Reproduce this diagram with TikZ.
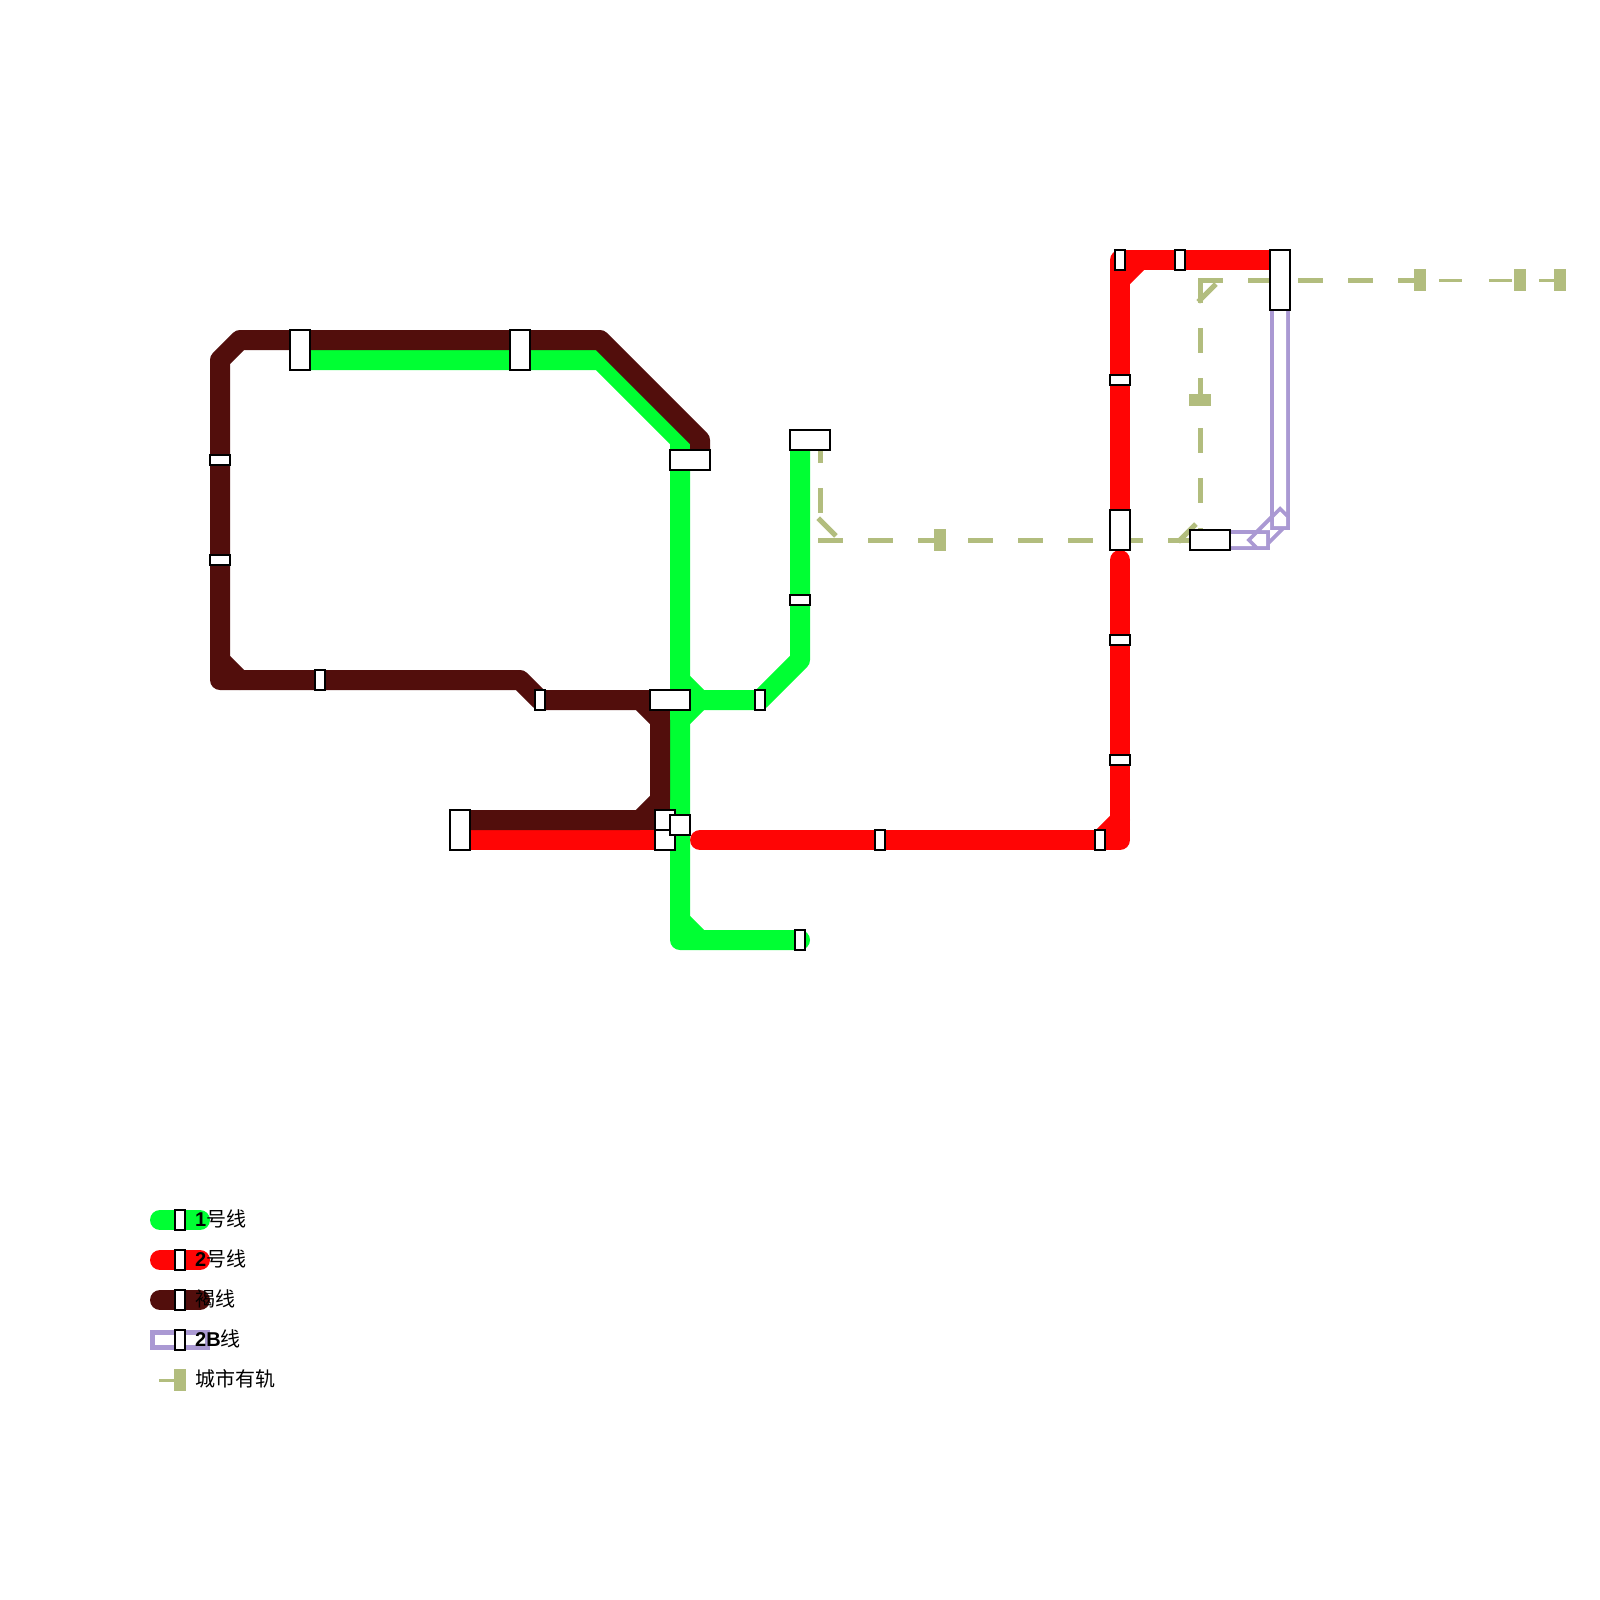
\documentclass[tikz,border=0pt]{standalone}
\usepackage{fontspec,tikz}
\usetikzlibrary{backgrounds}
\setmainfont{Liberation Sans}
\newfontfamily\cjk{Noto Sans CJK SC}
\definecolor{lgreen}{RGB}{0,255,51}
\definecolor{lred}{RGB}{255,5,5}
\definecolor{lbrown}{RGB}{82,14,12}
\definecolor{lpurple}{RGB}{170,153,211}
\definecolor{ltram}{RGB}{178,189,126}
\tikzset{
  metro/.style={line width=20pt,line cap=round,line join=round},
  metrob/.style={line width=20pt,draw=lpurple},
  tramline/.style={draw=ltram,line width=5pt,line cap=rect,dash pattern=on 20pt off 30pt},
  tramthin/.style={tramline,line width=3pt},
  stn/.style={draw=black,line width=2pt,fill=white,inner sep=0pt,outer sep=0pt},
  stnv/.style={stn,minimum width=10pt,minimum height=20pt},
  stnh/.style={stn,minimum width=20pt,minimum height=10pt},
  stnwide/.style={stn,minimum width=40pt,minimum height=20pt},
  stntall/.style={stn,minimum width=20pt,minimum height=40pt},
  stnlong/.style={stn,minimum width=20pt,minimum height=60pt},
  stnsq/.style={stn,minimum width=20pt,minimum height=20pt},
  tramv/.style={fill=ltram,inner sep=0pt,outer sep=0pt,minimum width=12pt,minimum height=22pt},
  tramh/.style={fill=ltram,inner sep=0pt,outer sep=0pt,minimum width=22pt,minimum height=12pt},
  legendtext/.style={anchor=base west,inner sep=0pt,font=\fontsize{20}{24}\selectfont}
}
\begin{document}
\begin{tikzpicture}[x=1pt,y=-1pt]
\path[use as bounding box] (0,0) rectangle (1600,1600);
% tram stops
\node[tramh] (tramA) at (1200,400) {};
\node[tramv] (tramB) at (940,540) {};
\node[tramv] (tramC) at (1420,280) {};
\node[tramv] (tramD) at (1520,280) {};
\node[tramv] (tramE) at (1560,280) {};
% brown line stations
\node[stntall] (brownA) at (300,350) {};
\node[stntall] (brownB) at (520,350) {};
\node[stnh] (brownC) at (220,460) {};
\node[stnh] (brownD) at (220,560) {};
\node[stnv] (brownE) at (320,680) {};
\node[stnv] (brownF) at (540,700) {};
\node[stnwide] (brownG) at (690,460) {};
\node[stnwide] (hubA) at (670,700) {};
\node[stntall] (westA) at (460,830) {};
\node[stnsq] (hubB) at (665,820) {};
\node[stnsq] (hubC) at (665,840) {};
\node[stnsq] (hubD) at (680,825) {};
% green line stations
\node[stnwide] (greenA) at (810,440) {};
\node[stnh] (greenB) at (800,600) {};
\node[stnv] (greenC) at (760,700) {};
\node[stnv] (greenD) at (800,940) {};
% red line stations
\node[stnlong] (redA) at (1280,280) {};
\node[stnv] (redB) at (1180,260) {};
\node[stnv] (redC) at (1120,260) {};
\node[stnh] (redD) at (1120,380) {};
\node[stntall] (redE) at (1120,530) {};
\node[stnh] (redF) at (1120,640) {};
\node[stnh] (redG) at (1120,760) {};
\node[stnv] (redH) at (1100,840) {};
\node[stnv] (redI) at (880,840) {};
\node[stnwide] (purpleA) at (1210,540) {};
% bends
\coordinate (bw1) at (460,820);
\coordinate (bw2) at (640,820);
\coordinate (bw3) at (660,800);
\coordinate (bw4) at (660,720);
\coordinate (bw5) at (640,700);
\coordinate (bw6) at (520,680);
\coordinate (bw7) at (220,680);
\coordinate (bw8) at (220,660);
\coordinate (bw9) at (240,680);
\coordinate (bw10) at (220,360);
\coordinate (bw11) at (240,340);
\coordinate (bw12) at (600,340);
\coordinate (bw13) at (700,440);
\coordinate (bw14) at (700,460);
\coordinate (bw15) at (660,700);
\coordinate (bw16) at (660,820);
\coordinate (gr1) at (300,360);
\coordinate (gr2) at (600,360);
\coordinate (gr3) at (680,440);
\coordinate (gr4) at (680,940);
\coordinate (gr5) at (680,920);
\coordinate (gr6) at (700,940);
\coordinate (gr7) at (800,440);
\coordinate (gr8) at (800,660);
\coordinate (gr9) at (700,700);
\coordinate (gr10) at (680,680);
\coordinate (gr11) at (680,720);
\coordinate (rd1) at (1280,260);
\coordinate (rd2) at (1140,260);
\coordinate (rd3) at (1120,280);
\coordinate (rd4) at (1120,560);
\coordinate (rd5) at (1120,840);
\coordinate (rd6) at (1120,820);
\coordinate (rd7) at (700,840);
\coordinate (rd8) at (460,840);
\coordinate (pu1) at (1270,540);
\coordinate (pu2) at (1280,530);
\coordinate (pu3) at (1260,540);
\coordinate (pu4) at (1280,520);
\coordinate (tr1) at (820,440);
\coordinate (tr2) at (820,520);
\coordinate (tr3) at (840,540);
\coordinate (tr4) at (820,540);
\coordinate (tr5) at (1200,540);
\coordinate (tr6) at (1180,540);
\coordinate (tr7) at (1200,520);
\coordinate (tr8) at (1200,280);
\coordinate (tr9) at (1200,300);
\coordinate (tr10) at (1220,280);
\coordinate (tr11) at (1440,280);
\begin{scope}[on background layer]
% tram
\draw[tramline] (tr1) -- (tr2);
\draw[tramline] (tr2) -- (tr3);
\draw[tramline] (tr4) -- (tramB.center) -- (tr5);
\draw[tramline] (tr6) -- (tr7);
\draw[tramline] (tr8) -- (tramA.center) -- (tr5);
\draw[tramline] (tr9) -- (tr10);
\draw[tramline] (tr8) -- (redA.center) -- (tramC.center);
\draw[tramthin] (tr11) -- (tramD.center) -- (tramE.center);
% 2B line
\draw[metrob] (purpleA.center) -- (pu1);
\draw[metrob] (redA.center) -- (pu2);
\draw[metrob] (pu3) -- (pu4);
\fill[white] (1225,534) -- (1252,534) -- (1246,540) -- (1252,546) -- (1225,546) -- cycle;
\fill[white] (1257.5,534) -- (1266,534) -- (1266,546) -- (1257.5,546) -- (1251.5,540) -- cycle;
\fill[white] (1274,290) -- (1286,290) -- (1286,512) -- (1280,506) -- (1274,512) -- cycle;
\fill[white] (1280,511.5) -- (1286,517.5) -- (1286,526) -- (1274,526) -- (1274,517.5) -- cycle;
\fill[white] (1270,530) -- (1278.5,530) -- (1270,538.5) -- cycle;
\fill[white] (1270,530) -- (1270,521.5) -- (1261.5,530) -- cycle;
% red line
\draw[metro,lred] (rd1) -- (redC.center) -- (redD.center) -- (redE.center);
\draw[metro,lred] (rd2) -- (rd3);
\draw[metro,lred] (rd4) -- (redF.center) -- (redG.center) -- (rd5) -- (redI.center) -- (rd7);
\draw[metro,lred] (rd6) -- (redH.center);
\draw[metro,lred] (rd8) -- (hubC.center);
% green line
\draw[metro,lgreen] (gr1) -- (gr2) -- (gr3) -- (gr4) -- (greenD.center);
\draw[metro,lgreen] (gr5) -- (gr6);
\draw[metro,lgreen] (gr7) -- (greenB.center) -- (gr8) -- (greenC.center) -- (gr9) -- (gr10);
\draw[metro,lgreen] (gr9) -- (gr11);
% brown line
\draw[metro,lbrown] (bw1) -- (bw2) -- (bw3) -- (bw4) -- (bw5) -- (brownF.center) -- (bw6) -- (brownE.center) -- (bw7) -- (brownD.center) -- (brownC.center) -- (bw10) -- (bw11) -- (bw12) -- (bw13) -- (bw14);
\draw[metro,lbrown] (bw8) -- (bw9);
\draw[metro,lbrown] (bw2) -- (hubB.center);
\draw[metro,lbrown] (bw5) -- (hubA.center);
\draw[metro,lbrown] (bw15) -- (bw16);
% legend
\coordinate (lgAl) at (160,1220);
\coordinate (lgAr) at (200,1220);
\coordinate (lgBl) at (160,1260);
\coordinate (lgBr) at (200,1260);
\coordinate (lgCl) at (160,1300);
\coordinate (lgCr) at (200,1300);
\coordinate (lgDl) at (160,1340);
\coordinate (lgDr) at (200,1340);
\coordinate (lgEl) at (160,1380);
\coordinate (lgEr) at (180,1380);
\draw[metro,lgreen] (lgAl) -- (lgAr);
\draw[metro,lred] (lgBl) -- (lgBr);
\draw[metro,lbrown] (lgCl) -- (lgCr);
\draw[draw=lpurple,line width=5pt,double=white,double distance=10pt,line cap=rect] (lgDl) -- (lgDr);
\draw[tramthin] (lgEl) -- (lgEr);
\end{scope}
\node[stnv] (legA) at (180,1220) {};
\node[stnv] (legB) at (180,1260) {};
\node[stnv] (legC) at (180,1300) {};
\node[stnv] (legD) at (180,1340) {};
\node[tramv] (legE) at (180,1380) {};
\node[legendtext] (textA) at (195,1226.5) {\textbf{1}{\cjk 号线}};
\node[legendtext] (textB) at (195,1266.5) {\textbf{2}{\cjk 号线}};
\node[legendtext] (textC) at (195,1306.5) {{\cjk 褐线}};
\node[legendtext] (textD) at (195,1346.5) {\textbf{2B}{\cjk 线}};
\node[legendtext] (textE) at (195,1386.5) {{\cjk 城市有轨}};
\end{tikzpicture}
\end{document}
